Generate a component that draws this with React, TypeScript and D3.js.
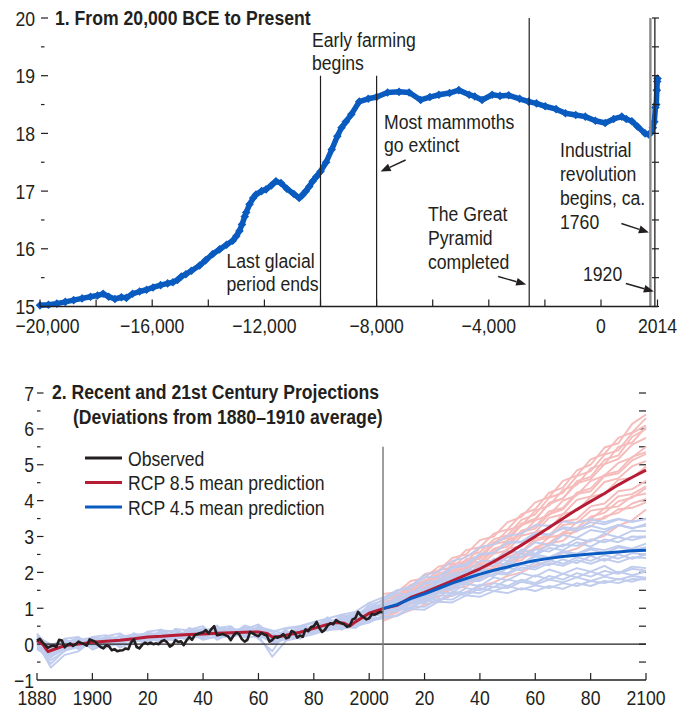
import React from 'react';
import * as d3 from 'd3';

// ---------- Panel 1 data: global temperature (°C), 20,000 BCE to 2014 ----------
const paleoYears = [-20000,-19700,-19400,-19100,-18800,-18500,-18200,-17950,-17750,-17550,-17330,-17100,-16920,-16700,-16450,-16200,-15970,-15700,-15450,-15260,-15100,-14960,-14800,-14600,-14310,-14100,-13840,-13600,-13350,-13130,-13000,-12890,-12800,-12700,-12650,-12530,-12400,-12300,-12100,-11940,-11750,-11590,-11410,-11200,-10950,-10760,-10650,-10520,-10400,-10280,-10150,-10000,-9800,-9600,-9400,-9250,-9100,-8900,-8620,-8300,-8000,-7610,-7200,-6840,-6430,-6100,-5780,-5400,-5070,-4700,-4500,-4240,-3880,-3600,-3290,-2900,-2580,-2300,-1990,-1600,-1270,-900,-560,-200,150,450,740,900,1100,1300,1570,1700,1800,1850,1900,1940,1970,1990,2005,2014];
const paleoTemps = [15.02,15.03,15.05,15.08,15.11,15.14,15.17,15.19,15.22,15.17,15.13,15.16,15.15,15.22,15.26,15.29,15.33,15.37,15.40,15.42,15.46,15.52,15.56,15.62,15.71,15.80,15.91,15.99,16.07,16.14,16.22,16.31,16.42,16.56,16.63,16.77,16.88,16.94,17.00,17.03,17.10,17.17,17.14,17.04,16.95,16.88,16.93,17.00,17.08,17.17,17.25,17.34,17.50,17.72,17.95,18.10,18.20,18.33,18.55,18.60,18.63,18.71,18.72,18.71,18.58,18.63,18.67,18.70,18.75,18.67,18.64,18.58,18.67,18.65,18.66,18.60,18.55,18.52,18.47,18.42,18.35,18.32,18.29,18.22,18.18,18.25,18.29,18.25,18.21,18.12,18.00,17.98,18.02,18.10,18.20,18.45,18.50,18.75,18.90,18.95];

const topXTicks = [-20000,-18000,-16000,-14000,-12000,-10000,-8000,-6000,-4000,-2000,0,2014];
const topXLabels = [-20000,-16000,-12000,-8000,-4000,0,2014];

// ---------- Panel 2 data: deviations from 1880–1910 average (°C) ----------
const obsStart = 1880;
const observed = [0.10,0.15,0.05,-0.03,-0.10,-0.06,-0.04,-0.08,0.12,0.10,
  -0.09,-0.02,0.02,-0.05,0.00,0.07,0.03,0.00,-0.04,0.13,
  0.10,0.07,-0.02,-0.08,-0.12,-0.03,-0.06,-0.17,-0.14,-0.20,
  -0.18,-0.17,-0.12,-0.14,0.05,0.13,-0.08,-0.12,-0.02,0.04,
  0.00,0.04,0.00,0.02,0.00,0.08,0.11,0.05,-0.07,-0.02,
  0.11,0.06,0.08,-0.03,0.10,0.20,0.12,0.25,0.28,0.31,
  0.33,0.39,0.30,0.42,0.50,0.25,0.26,0.28,0.25,0.22,
  0.11,0.24,0.32,0.28,0.14,0.07,0.12,0.34,0.30,0.25,
  0.22,0.31,0.27,0.24,0.07,0.12,0.20,0.18,0.22,0.28,
  0.16,0.19,0.37,0.33,0.18,0.24,0.20,0.41,0.36,0.48,
  0.50,0.62,0.45,0.34,0.40,0.52,0.58,0.55,0.67,0.62,
  0.58,0.55,0.48,0.52,0.69,0.72,0.90,0.80,0.75,0.69,
  0.72,0.84,0.82,0.86,0.90,0.88];

const rcp85Years = [1880,1882,1884,1886,1890,1895,1900,1905,1910,1915,1920,1925,1930,1935,1940,1945,1950,1955,1960,1963,1965,1968,1970,1975,1980,1985,1988,1991,1993,1995,2000,2005,2010,2015,2020,2025,2030,2035,2040,2045,2050,2055,2060,2065,2070,2075,2080,2085,2090,2095,2100];
const rcp85Mean = [0.10,0.00,-0.21,-0.15,-0.04,0.00,0.05,0.08,0.11,0.15,0.20,0.22,0.25,0.27,0.28,0.30,0.32,0.33,0.34,0.30,0.20,0.22,0.25,0.33,0.44,0.55,0.60,0.58,0.50,0.62,0.86,0.99,1.08,1.30,1.44,1.60,1.76,1.93,2.10,2.30,2.52,2.76,3.00,3.25,3.50,3.75,3.98,4.20,4.44,4.65,4.85];

const projYears = [2005,2010,2015,2020,2025,2030,2035,2040,2045,2050,2055,2060,2065,2070,2075,2080,2085,2090,2095,2100];
const rcp45Mean = [0.99,1.10,1.27,1.40,1.55,1.70,1.83,1.95,2.06,2.15,2.25,2.33,2.39,2.44,2.48,2.51,2.54,2.57,2.60,2.62];

const ensYears = d3.range(1880, 2101, 5);
const rcp45Members = [
  [0.25,-0.05,0.15,0.20,-0.05,0.22,0.30,0.05,0.35,0.40,0.15,0.45,0.30,0.50,0.20,0.50,0.28,0.10,0.42,0.50,0.45,0.75,0.50,0.80,1.05,1.10,1.28,1.22,1.52,1.58,1.84,1.80,2.10,2.02,2.30,2.22,2.50,2.42,2.60,2.52,2.68,2.62,2.74,2.66,2.80],
  [-0.10,-0.45,-0.20,0.12,0.18,-0.08,0.02,0.30,0.08,0.35,0.20,0.12,0.45,0.22,0.48,0.20,0.50,0.00,0.15,0.40,0.32,0.55,0.72,0.50,0.78,0.90,1.10,1.12,1.36,1.42,1.66,1.68,1.92,1.90,2.12,2.06,2.28,2.20,2.36,2.26,2.46,2.32,2.50,2.38,2.50],
  [0.30,-0.20,0.15,-0.15,0.20,0.25,-0.05,0.30,0.18,0.05,0.42,0.38,0.15,0.45,0.50,0.20,0.45,0.35,0.10,0.48,0.60,0.40,0.75,0.85,0.95,1.15,1.14,1.46,1.48,1.78,1.82,2.08,2.06,2.38,2.32,2.64,2.52,2.78,2.72,2.94,2.86,3.08,2.98,3.16,3.15],
  [0.05,-0.65,-0.30,-0.20,0.10,0.20,-0.10,0.05,0.35,0.15,0.10,0.40,0.50,0.12,0.30,0.48,0.15,-0.20,0.38,0.15,0.50,0.70,0.40,0.65,0.75,0.85,1.06,1.02,1.30,1.22,1.42,1.36,1.56,1.48,1.62,1.52,1.64,1.56,1.70,1.62,1.76,1.70,1.82,1.74,1.85],
  [0.15,-0.30,0.05,0.15,-0.15,0.00,0.25,0.15,0.00,0.35,0.35,0.15,0.30,0.52,0.15,0.40,0.55,0.25,0.30,0.25,0.52,0.45,0.70,0.80,0.90,1.05,1.10,1.42,1.38,1.72,1.74,2.02,2.04,2.28,2.22,2.52,2.48,2.68,2.62,2.84,2.72,2.92,2.84,3.00,2.98],
  [-0.15,-0.35,-0.12,-0.05,0.15,-0.10,0.20,0.25,0.30,0.10,0.42,0.20,0.18,0.38,0.42,0.18,0.22,0.30,0.12,0.38,0.35,0.68,0.45,0.72,0.88,0.95,0.96,1.22,1.18,1.42,1.44,1.68,1.62,1.86,1.78,1.98,1.88,2.08,1.96,2.12,2.02,2.18,1.98,2.16,2.12],
  [0.20,-0.10,0.10,-0.02,0.20,0.12,0.02,0.28,0.10,0.40,0.18,0.38,0.42,0.20,0.25,0.52,0.40,0.35,0.45,0.50,0.60,0.55,0.80,0.70,1.10,1.20,1.42,1.38,1.68,1.72,1.98,2.02,2.32,2.32,2.58,2.56,2.84,2.76,3.04,2.96,3.18,3.12,3.32,3.22,3.35],
  [-0.05,-0.55,-0.18,-0.08,0.00,0.18,-0.02,0.05,0.28,0.10,0.15,0.35,0.12,0.22,0.20,0.35,0.25,-0.35,0.10,0.18,0.28,0.40,0.42,0.50,0.60,0.80,0.96,1.00,1.22,1.18,1.46,1.42,1.66,1.58,1.80,1.72,1.92,1.80,1.96,1.86,2.02,1.90,2.02,1.92,2.02],
  [0.18,0.00,-0.08,0.10,0.00,0.20,0.18,0.08,0.30,0.30,0.15,0.35,0.38,0.42,0.22,0.28,0.45,0.15,0.35,0.28,0.55,0.50,0.65,0.55,0.95,1.00,1.20,1.22,1.48,1.50,1.78,1.78,2.04,2.04,2.26,2.22,2.44,2.38,2.56,2.48,2.64,2.54,2.70,2.62,2.70],
  [0.00,-0.38,0.02,0.18,-0.08,0.00,0.15,0.05,0.22,0.15,0.38,0.20,0.22,0.40,0.40,0.42,0.25,0.05,0.30,0.42,0.35,0.60,0.50,0.72,0.80,0.98,1.04,1.26,1.32,1.56,1.56,1.82,1.82,2.04,1.98,2.22,2.14,2.34,2.24,2.42,2.32,2.48,2.38,2.54,2.50],
  [0.08,-0.20,0.10,-0.10,0.18,-0.02,0.22,0.25,0.15,0.28,0.12,0.38,0.25,0.38,0.28,0.22,0.42,0.18,0.20,0.45,0.42,0.62,0.58,0.65,0.98,1.08,1.26,1.32,1.58,1.64,1.92,1.92,2.18,2.20,2.42,2.42,2.64,2.58,2.78,2.74,2.92,2.84,2.98,2.90,3.00],
  [0.22,-0.25,0.12,0.00,0.00,0.15,0.02,0.22,0.32,0.12,0.30,0.18,0.35,0.25,0.38,0.40,0.28,0.12,0.28,0.25,0.48,0.45,0.62,0.58,0.85,0.92,0.98,1.24,1.24,1.52,1.52,1.76,1.76,1.96,1.94,2.14,2.08,2.26,2.18,2.34,2.24,2.38,2.28,2.42,2.40],
  [0.00,-0.05,0.00,0.12,0.12,0.05,0.18,0.28,0.15,0.38,0.35,0.25,0.38,0.45,0.40,0.30,0.48,0.38,0.28,0.50,0.62,0.72,0.82,0.90,1.15,1.30,1.50,1.54,1.86,1.88,2.16,2.24,2.52,2.54,2.82,2.84,3.06,3.04,3.26,3.22,3.40,3.34,3.48,3.40,3.50],
  [0.15,-0.35,-0.15,-0.05,-0.05,0.10,0.00,0.15,0.05,0.22,0.15,0.28,0.20,0.18,0.32,0.22,0.35,0.00,0.20,0.18,0.38,0.38,0.50,0.45,0.70,0.75,0.80,1.04,1.04,1.26,1.24,1.46,1.42,1.60,1.56,1.74,1.66,1.80,1.72,1.86,1.76,1.88,1.80,1.90,1.85],
  [0.10,-0.20,0.05,0.00,0.10,0.15,0.10,0.20,0.25,0.20,0.28,0.32,0.30,0.35,0.30,0.35,0.38,0.25,0.30,0.40,0.50,0.58,0.68,0.72,1.00,1.25,1.48,1.62,1.92,2.02,2.32,2.42,2.70,2.78,3.02,3.08,3.32,3.30,3.42,3.38,3.48,3.40,3.50,3.42,3.48],
  [0.00,-0.30,-0.10,0.05,-0.02,0.02,0.08,0.12,0.10,0.15,0.22,0.18,0.22,0.28,0.25,0.30,0.28,0.10,0.20,0.28,0.30,0.45,0.48,0.55,0.65,0.72,0.78,0.98,0.96,1.18,1.16,1.36,1.32,1.48,1.42,1.56,1.48,1.62,1.54,1.70,1.62,1.76,1.70,1.82,1.80],
  [0.05,-0.12,0.00,0.08,0.05,0.10,0.15,0.18,0.22,0.25,0.25,0.30,0.32,0.30,0.35,0.38,0.35,0.20,0.28,0.35,0.48,0.55,0.62,0.70,0.90,1.05,1.32,1.36,1.72,1.78,2.12,2.18,2.50,2.54,2.84,2.86,3.10,3.06,3.22,3.16,3.30,3.20,3.32,3.24,3.30],
  [0.12,-0.22,0.02,0.00,0.05,0.05,0.10,0.10,0.18,0.18,0.22,0.25,0.25,0.28,0.30,0.28,0.32,0.15,0.22,0.30,0.38,0.48,0.52,0.60,0.75,0.85,0.92,1.14,1.14,1.36,1.34,1.56,1.50,1.70,1.62,1.80,1.70,1.90,1.80,1.98,1.88,2.04,1.96,2.10,2.05],
];
const rcp85Members = [
  [1.10,1.30,1.40,1.68,1.75,2.05,2.10,2.45,2.55,2.90,3.05,3.45,3.60,4.00,4.15,4.55,4.70,5.05,5.20,5.50],
  [0.85,0.90,1.20,1.24,1.50,1.55,1.80,1.85,2.15,2.25,2.55,2.65,2.98,3.05,3.40,3.48,3.78,3.84,4.12,4.20],
  [1.30,1.36,1.66,1.74,2.06,2.14,2.46,2.56,2.92,3.04,3.46,3.62,4.08,4.22,4.68,4.82,5.28,5.40,5.88,6.10],
  [0.70,0.95,1.00,1.26,1.30,1.56,1.60,1.86,1.94,2.26,2.34,2.64,2.74,3.06,3.14,3.46,3.50,3.76,3.80,3.95],
  [1.00,1.10,1.40,1.44,1.76,1.80,2.12,2.18,2.52,2.62,3.02,3.12,3.52,3.62,4.02,4.12,4.52,4.62,4.96,5.10],
  [1.20,1.24,1.56,1.60,1.92,1.98,2.32,2.38,2.78,2.88,3.32,3.46,3.94,4.06,4.54,4.66,5.14,5.26,5.78,6.00],
  [0.90,1.10,1.20,1.46,1.50,1.76,1.82,2.12,2.18,2.52,2.58,2.94,3.02,3.42,3.48,3.84,3.92,4.26,4.32,4.55],
  [1.05,1.14,1.46,1.50,1.82,1.88,2.16,2.24,2.62,2.72,3.12,3.22,3.62,3.76,4.18,4.26,4.68,4.76,5.12,5.30],
  [1.40,1.44,1.76,1.84,2.16,2.24,2.62,2.70,3.08,3.20,3.62,3.76,4.22,4.36,4.84,5.00,5.48,5.60,6.14,6.40],
  [0.80,1.00,1.10,1.36,1.44,1.72,1.76,2.06,2.12,2.44,2.54,2.88,2.98,3.32,3.38,3.72,3.78,4.12,4.18,4.40],
  [1.15,1.20,1.52,1.56,1.84,1.92,2.24,2.30,2.66,2.78,3.16,3.28,3.70,3.80,4.22,4.34,4.72,4.82,5.22,5.35],
  [0.95,1.16,1.24,1.52,1.56,1.86,1.92,2.22,2.30,2.66,2.74,3.12,3.22,3.62,3.72,4.10,4.20,4.58,4.64,4.95],
  [1.25,1.30,1.62,1.66,1.98,2.04,2.36,2.46,2.84,2.96,3.36,3.50,3.90,4.06,4.48,4.60,5.02,5.16,5.56,5.75],
  [0.75,0.88,1.14,1.20,1.44,1.52,1.76,1.82,2.06,2.16,2.44,2.50,2.80,2.88,3.20,3.28,3.56,3.66,3.92,4.05],
  [1.20,1.50,1.60,1.95,2.05,2.40,2.50,2.90,3.00,3.40,3.55,3.95,4.10,4.55,4.70,5.15,5.30,5.75,5.90,6.30],
  [0.65,0.80,0.95,1.10,1.20,1.36,1.45,1.62,1.72,1.90,2.00,2.20,2.32,2.55,2.66,2.90,3.02,3.30,3.45,3.75],
  [1.00,1.38,1.45,1.78,1.86,2.22,2.30,2.68,2.78,3.18,3.30,3.72,3.86,4.30,4.44,4.90,5.02,5.50,5.62,6.05],
  [0.90,1.00,1.22,1.32,1.48,1.62,1.74,1.95,2.05,2.30,2.42,2.70,2.82,3.12,3.24,3.55,3.66,3.98,4.08,4.35],
];

const legendItems = [
  { label: 'Observed', color: '#231f20' },
  { label: 'RCP 8.5 mean prediction', color: '#b71c34' },
  { label: 'RCP 4.5 mean prediction', color: '#0a5cc2' },
];

const FONT = "'Liberation Sans', Arial, sans-serif";
const TXT = '#231f20';
const FS = 21;
const SX = 0.84; // horizontal condensing to mimic a condensed face

function T({ x, y, children, anchor = 'start', bold = false, dy }: any) {
  return (
    <text transform={`translate(${x},${y}) scale(${SX},1)`} textAnchor={anchor} dy={dy}
      fontSize={FS} fontWeight={bold ? 700 : 400} fill={TXT}>{children}</text>
  );
}

function Arrow({ x1, y1, x2, y2 }: { x1: number; y1: number; x2: number; y2: number }) {
  const a = Math.atan2(y2 - y1, x2 - x1);
  const L = 10, W = 4;
  const bx = x2 - L * Math.cos(a), by = y2 - L * Math.sin(a);
  const px = -Math.sin(a) * W, py = Math.cos(a) * W;
  return (
    <g>
      <line x1={x1} y1={y1} x2={bx} y2={by} stroke={TXT} strokeWidth={1.4} />
      <path d={`M${x2},${y2}L${bx + px},${by + py}L${bx - px},${by - py}Z`} fill={TXT} />
    </g>
  );
}

function Lines({ x, y, lines, dy }: { x: number; y: number; lines: string[]; dy: number }) {
  return (
    <text transform={`translate(${x},${y}) scale(${SX},1)`} fontSize={FS} fill={TXT}>
      {lines.map((l, i) => (
        <tspan key={i} x={0} y={i * dy}>{l}</tspan>
      ))}
    </text>
  );
}

export default function App() {
  const xT = d3.scaleLinear().domain([-20000, 2014]).range([40, 657.5]);
  const yT = d3.scaleLinear().domain([15, 20]).range([306.5, 18]);
  const xB = d3.scaleLinear().domain([1880, 2100]).range([37, 646]);
  const yB = d3.scaleLinear().domain([-1, 7]).range([680, 393]);

  const paleo = paleoYears.map((yr, i) => [xT(yr), yT(paleoTemps[i])] as [number, number]);
  const paleoPath = d3.line()(paleo) || '';

  const lineB = d3.line<[number, number]>().x(d => xB(d[0])).y(d => yB(d[1]));
  const obsPath = lineB(observed.map((v, i) => [obsStart + i, v])) || '';
  const r85Path = lineB(rcp85Years.map((yr, i) => [yr, rcp85Mean[i]])) || '';
  const r45Path = lineB(projYears.map((yr, i) => [yr, rcp45Mean[i]])) || '';

  const fmt = d3.format(',');
  const topYTicks = d3.range(15, 20.001, 0.5);
  const botYTicks = d3.range(-1, 7.001, 0.5);
  const botXTicks = d3.range(1880, 2101, 20);
  const botLabel = (yr: number) => (yr % 100 === 0 || yr === 1880 ? String(yr) : String(yr % 100));
  const isInt = (v: number) => Math.abs(v - Math.round(v)) < 1e-6;

  const diamond = 'M0,-4.3L4.3,0L0,4.3L-4.3,0Z';
  const xEnd = xT(2014);

  return (
    <svg width={680} height={710} style={{ position: 'absolute', left: 0, top: 0, background: '#fff' }}
      fontFamily={FONT}>
      {/* ================= Panel 1 ================= */}
      <T x={55} y={25} bold>1. From 20,000 BCE to Present</T>

      {topYTicks.map(v => (
        <g key={'tyl' + v}>
          <line x1={41} x2={isInt(v) ? 48 : 44.5} y1={yT(v)} y2={yT(v)} stroke={TXT} strokeWidth={1.2} />
          {isInt(v) && <T x={35} y={yT(v)} dy="0.36em" anchor="end">{v}</T>}
        </g>
      ))}

      <path d={paleoPath} fill="none" stroke="#0a5bbf" strokeWidth={5.5} strokeLinejoin="round" />
      {paleo.map((p, i) => (
        <path key={'dm' + i} d={diamond} transform={`translate(${p[0]},${p[1]})`} fill="#0a5bbf" />
      ))}

      <line x1={xT(-10000)} x2={xT(-10000)} y1={yT(19)} y2={yT(15)} stroke={TXT} strokeWidth={1.2} />
      <line x1={xT(-8000)} x2={xT(-8000)} y1={yT(19)} y2={yT(15)} stroke={TXT} strokeWidth={1.2} />
      <line x1={xT(-2560)} x2={xT(-2560)} y1={yT(20)} y2={yT(15)} stroke={TXT} strokeWidth={1.2} />
      <line x1={xT(1760)} x2={xT(1760)} y1={yT(20)} y2={yT(15)} stroke="#8a8a8a" strokeWidth={2.4} />
      <line x1={xT(1920)} x2={xT(1920)} y1={yT(20)} y2={yT(15)} stroke={TXT} strokeWidth={1.3} />

      {topYTicks.map(v => (
        <line key={'tyr' + v} x1={xEnd - 5.5} x2={xEnd + 1.5} y1={yT(v)} y2={yT(v)} stroke={TXT} strokeWidth={1.2} />
      ))}

      <line x1={xT(-20000)} x2={xEnd} y1={yT(15)} y2={yT(15)} stroke={TXT} strokeWidth={1.4} />
      {topXTicks.map(t => (
        <line key={'txt' + t} x1={xT(t)} x2={xT(t)} y1={yT(15)} y2={yT(15) - 7} stroke={TXT} strokeWidth={1.2} />
      ))}
      {topXLabels.map(t => (
        <T key={'txl' + t} x={xT(t) + (t === -20000 ? 7.5 : 0)} y={333} anchor="middle">
          {t === 2014 ? '2014' : fmt(t)}
        </T>
      ))}

      <Lines x={312} y={47} dy={23.5} lines={['Early farming', 'begins']} />
      <Lines x={384} y={128.5} dy={23.5} lines={['Most mammoths', 'go extinct']} />
      <Arrow x1={xT(-8000) + 29} y1={160} x2={xT(-8000) + 4} y2={171.5} />
      <Lines x={226.5} y={267.5} dy={23.5} lines={['Last glacial', 'period ends']} />
      <Lines x={428} y={221} dy={24} lines={['The Great', 'Pyramid', 'completed']} />
      <Arrow x1={xT(-2560) - 31} y1={276.5} x2={xT(-2560) - 3} y2={284.5} />
      <Lines x={560} y={156.5} dy={24.2} lines={['Industrial', 'revolution', 'begins, ca.', '1760']} />
      <Arrow x1={xT(1760) - 29} y1={223.5} x2={xT(1760) - 1.5} y2={232.5} />
      <Lines x={583} y={281} dy={0} lines={['1920']} />
      <Arrow x1={xT(1920) - 29} y1={283.5} x2={xT(1920) - 1} y2={291.5} />

      {/* ================= Panel 2 ================= */}
      <T x={52} y={398.5} bold>2. Recent and 21st Century Projections</T>
      <T x={73} y={423.5} bold>(Deviations from 1880–1910 average)</T>

      {botYTicks.map(v => (
        <g key={'byl' + v}>
          {v > -1 && (
            <line x1={37} x2={isInt(v) ? 43.5 : 40.5} y1={yB(v)} y2={yB(v)} stroke={TXT} strokeWidth={1.2} />
          )}
          {isInt(v) && <T x={34} y={yB(v)} dy="0.36em" anchor="end">{d3.format('d')(v)}</T>}
          {v > -1 && (
            <line x1={639} x2={646} y1={yB(v)} y2={yB(v)} stroke={TXT} strokeWidth={1.2} />
          )}
        </g>
      ))}

      <g fill="none" strokeWidth={1.9} strokeLinejoin="round">
        {rcp85Members.map((m, k) => (
          <path key={'p' + k} d={lineB(projYears.map((yr, i) => [yr, m[i]])) || ''} stroke="#f5bcbb" />
        ))}
        {rcp45Members.map((m, k) => (
          <path key={'b' + k} d={lineB(ensYears.map((yr, i) => [yr, m[i]])) || ''} stroke="#c0ccee" />
        ))}
      </g>

      <line x1={xB(1880)} x2={xB(2100)} y1={yB(0)} y2={yB(0)} stroke={TXT} strokeWidth={1.2} />

      <path d={r85Path} fill="none" stroke="#b71c34" strokeWidth={3} strokeLinejoin="round" />
      <path d={r45Path} fill="none" stroke="#0a5cc2" strokeWidth={3} strokeLinejoin="round" />
      <path d={obsPath} fill="none" stroke={TXT} strokeWidth={2.6} strokeLinejoin="round" />

      <line x1={xB(2005)} x2={xB(2005)} y1={yB(5.5)} y2={yB(-1)} stroke="#7f7f7f" strokeWidth={1.5} />

      <line x1={xB(1880)} x2={xB(2100)} y1={yB(-1)} y2={yB(-1)} stroke={TXT} strokeWidth={1.4} />
      {botXTicks.map(t => (
        <g key={'bx' + t}>
          <line x1={xB(t)} x2={xB(t)} y1={yB(-1)} y2={yB(-1) - 7} stroke={TXT} strokeWidth={1.2} />
          <T x={xB(t)} y={705} anchor="middle">{botLabel(t)}</T>
        </g>
      ))}

      {legendItems.map((it, i) => (
        <g key={'lg' + i}>
          <line x1={85} x2={122} y1={458 + i * 24.5} y2={458 + i * 24.5} stroke={it.color} strokeWidth={3} />
          <T x={128} y={458 + i * 24.5} dy="0.36em">{it.label}</T>
        </g>
      ))}
    </svg>
  );
}
